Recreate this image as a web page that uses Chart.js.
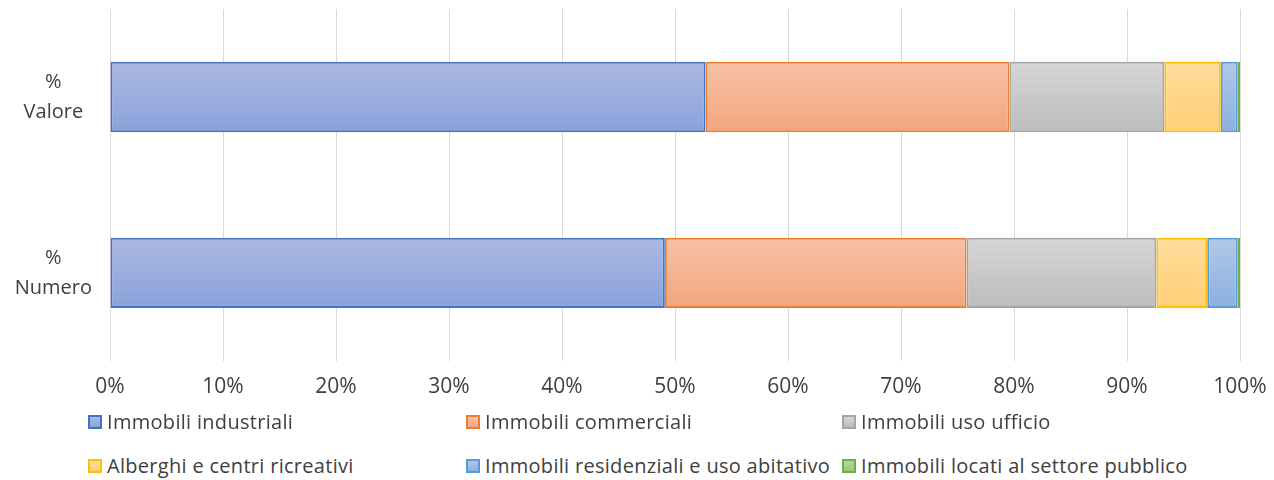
<!DOCTYPE html>
<html lang="it">
<head>
<meta charset="utf-8" />
<title>Immobili</title>
<script src="https://cdn.jsdelivr.net/npm/chart.js"></script>
<style>
  body { margin: 0; background: #fff; font-family: "Open Sans", sans-serif; }
  #wrap { position: relative; width: 1274px; height: 480px; }
  #box { position: absolute; left: 0; top: 0; width: 1274px; height: 414px; }
  .leg { position: absolute; font-size: 20px; color: #404040; white-space: nowrap; line-height: 24px; letter-spacing: 0.3px; }
  .leg i { display: inline-block; width: 10px; height: 10px; border: 2px solid; margin-right: 5px; vertical-align: 0px; }
</style>
</head>
<body>
<div id="wrap">
  <div id="box"><canvas id="chart"></canvas></div>
  <div id="legend"></div>
</div>
<script>
  const categories = [['%', 'Valore'], ['%', 'Numero']];
  const seriesNames = ['Immobili industriali', 'Immobili commerciali', 'Immobili uso ufficio',
    'Alberghi e centri ricreativi', 'Immobili residenziali e uso abitativo', 'Immobili locati al settore pubblico'];
  const industriali = [52.7, 49.1];
  const commerciali = [26.9, 26.7];
  const ufficio = [13.7, 16.8];
  const alberghi = [5.0, 4.5];
  const residenziali = [1.5, 2.7];
  const pubblico = [0.2, 0.2];
  const xTicks = [0, 10, 20, 30, 40, 50, 60, 70, 80, 90, 100];

  // colori: bordo, gradiente alto, gradiente basso
  const palette = [
    ['#4472c4', '#abb8e2', '#8aa2da'],
    ['#ed7d31', '#f7c2a6', '#f4a47e'],
    ['#a5a5a5', '#d6d6d6', '#bcbcbc'],
    ['#ffc000', '#ffdc9c', '#ffcf76'],
    ['#5b9bd5', '#b0c8e9', '#8db0de'],
    ['#70ad47', '#b4d89c', '#9cca7d']
  ];
  const allData = [industriali, commerciali, ufficio, alberghi, residenziali, pubblico];

  function grad(i) {
    return function (ctx) {
      const chart = ctx.chart;
      if (!chart.chartArea || !chart.scales.y) return palette[i][2];
      const y = chart.scales.y.getPixelForValue(ctx.dataIndex);
      const h = 35;
      const g = chart.ctx.createLinearGradient(0, y - h, 0, y + h);
      g.addColorStop(0, palette[i][1]);
      g.addColorStop(1, palette[i][2]);
      return g;
    };
  }

  const datasets = allData.map((d, i) => ({
    label: seriesNames[i],
    data: d,
    backgroundColor: grad(i),
    borderColor: palette[i][0],
    borderWidth: 2,
    borderSkipped: false,
    barPercentage: 0.4,
    categoryPercentage: 1
  }));

  const chart = new Chart(document.getElementById('chart'), {
    type: 'bar',
    data: { labels: categories, datasets: datasets },
    options: {
      indexAxis: 'y',
      responsive: true,
      maintainAspectRatio: false,
      animation: false,
      layout: { padding: { top: 9, right: 34, left: 0, bottom: 0 } },
      plugins: { legend: { display: false }, tooltip: { enabled: false } },
      scales: {
        x: {
          stacked: true,
          min: 0, max: 100,
          afterBuildTicks: s => { s.ticks = xTicks.map(v => ({ value: v })); },
          afterFit: s => { s.paddingLeft = 0; s.paddingRight = 0; },
          ticks: {
            callback: v => v + '%',
            color: '#404040',
            font: { family: 'Open Sans', size: 21 },
            padding: 14,
            maxRotation: 0
          },
          grid: { color: '#d9d9d9', lineWidth: 1, drawTicks: false },
          border: { display: false }
        },
        y: {
          stacked: true,
          afterFit: s => { s.width = 110; s.paddingTop = 0; s.paddingBottom = 0; },
          ticks: {
            color: '#404040',
            font: { family: 'Open Sans', size: 20, lineHeight: 1.5 },
            crossAlign: 'center',
            padding: 10
          },
          grid: { display: false },
          border: { display: true, color: '#d9d9d9', width: 1 }
        }
      }
    }
  });

  // legenda in HTML, 3 colonne x 2 righe
  const legCols = [88, 466, 842];
  const legRows = [410, 454];
  const legend = document.getElementById('legend');
  seriesNames.forEach((name, i) => {
    const el = document.createElement('div');
    el.className = 'leg';
    el.style.left = legCols[i % 3] + 'px';
    el.style.top = legRows[Math.floor(i / 3)] + 'px';
    el.innerHTML = '<i style="border-color:' + palette[i][0] + ';background:linear-gradient(' + palette[i][1] + ',' + palette[i][2] + ')"></i>' + name;
    legend.appendChild(el);
  });
</script>
</body>
</html>
